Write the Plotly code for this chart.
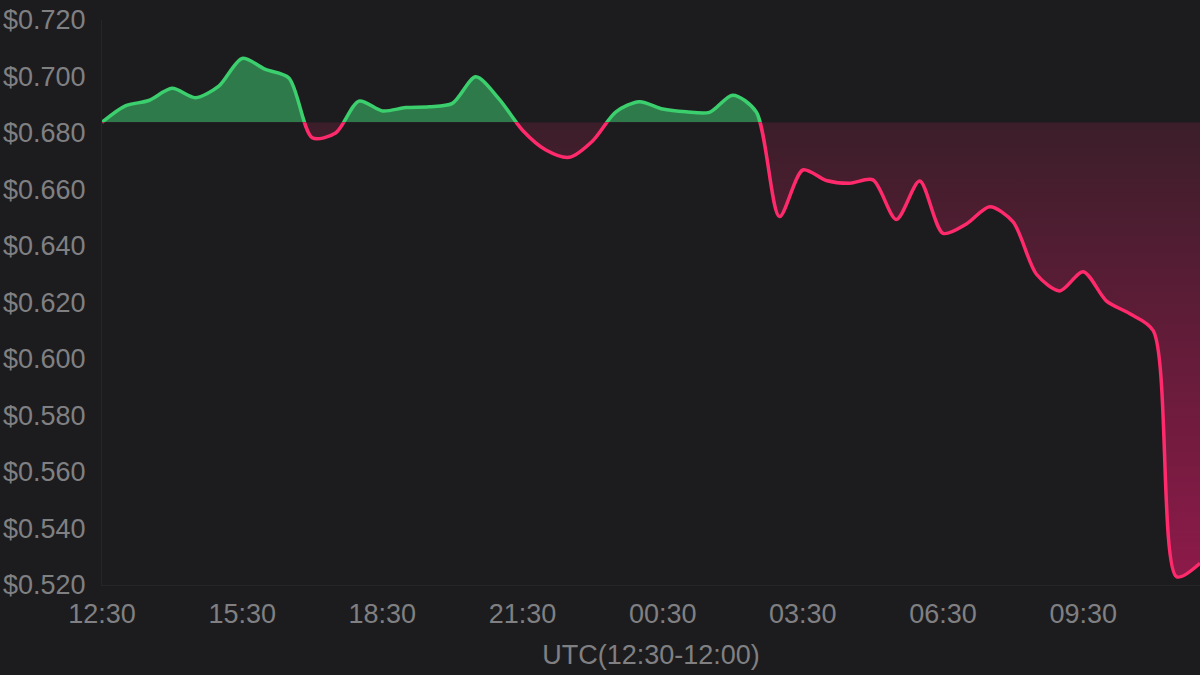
import plotly.graph_objects as go
import pandas as pd

# 30-minute price samples, 12:30 -> 12:00 next day (UTC)
start_time = "2024-05-20 12:30"
prices = [
    0.6838, 0.6896, 0.6915, 0.6958, 0.6925, 0.6966, 0.7064, 0.7025,
    0.6995, 0.6783, 0.6800, 0.6913, 0.6878, 0.6890, 0.6893, 0.6905,
    0.6999, 0.6920, 0.6810, 0.6740, 0.6714, 0.6772, 0.6875, 0.6911,
    0.6885, 0.6875, 0.6873, 0.6934, 0.6875, 0.6504, 0.6669, 0.6632,
    0.6622, 0.6634, 0.6494, 0.6630, 0.6445, 0.6478, 0.6539, 0.6485,
    0.6300, 0.6241, 0.6309, 0.6205, 0.6160, 0.6100, 0.5229, 0.5277,
]
y_ticks = [0.52, 0.54, 0.56, 0.58, 0.60, 0.62, 0.64, 0.66, 0.68, 0.70, 0.72]
x_title = "UTC(12:30-12:00)"

times = pd.date_range(start_time, periods=len(prices), freq="30min")
base = prices[0]
y_min, y_max = 0.52, 0.72

BG = "#1c1c1e"
GREEN = "#3ccf6e"
RED = "#ff2a6c"
TXT = "#808083"
FONT = "Liberation Sans, Arial, sans-serif"

# split point of the plot height at the opening price
split = (base - y_min) / (y_max - y_min)

fig = go.Figure()

# carrier trace for the visible axes
fig.add_trace(go.Scatter(x=times, y=prices, mode="none", hoverinfo="skip",
                         showlegend=False))

# above the open: green, clipped to upper band
fig.add_trace(go.Scatter(
    x=times, y=prices, yaxis="y2", mode="lines",
    line=dict(color=GREEN, width=3.5, shape="spline", smoothing=0.8),
    fill="tozeroy", fillcolor="#2e7a4b",
    hovertemplate="%{x|%H:%M}<br>$%{y:.4f}<extra></extra>",
))

# below the open: red with gradient, clipped to lower band
fig.add_trace(go.Scatter(
    x=times, y=[base] * len(times), yaxis="y3", mode="lines",
    line=dict(width=0), hoverinfo="skip",
))
fig.add_trace(go.Scatter(
    x=times, y=prices, yaxis="y3", mode="lines",
    line=dict(color=RED, width=3.5, shape="spline", smoothing=0.8),
    fill="tonexty",
    fillgradient=dict(type="vertical", start=y_min, stop=base,
                      colorscale=[[0, "#8e1a4a"], [1, "#3b1e29"]]),
    hovertemplate="%{x|%H:%M}<br>$%{y:.4f}<extra></extra>",
))

fig.update_layout(
    width=1200,
    height=675,
    paper_bgcolor=BG,
    plot_bgcolor=BG,
    showlegend=False,
    margin=dict(l=102, r=0, t=20, b=90),
    font=dict(family=FONT, color=TXT, size=27),
    xaxis=dict(
        anchor="y",
        range=[times[0], times[-1]],
        tick0=times[0],
        dtick=3 * 3600 * 1000,
        tickformat="%H:%M",
        showgrid=False,
        zeroline=False,
        showline=True,
        linecolor="#262628",
        linewidth=1,
        ticks="",
        ticklabelstandoff=5,
        tickfont=dict(size=27, color=TXT),
        title=dict(text=x_title, standoff=16, font=dict(size=27, color=TXT)),
    ),
    yaxis=dict(
        domain=[0, 1],
        range=[y_min, y_max],
        tickvals=y_ticks,
        ticktext=[f"${v:.3f}" for v in y_ticks],
        showgrid=False,
        zeroline=False,
        showline=True,
        linecolor="#262628",
        linewidth=1,
        ticks="",
        ticklabelstandoff=10,
        tickfont=dict(size=27, color=TXT),
    ),
    yaxis2=dict(domain=[split, 1], range=[base, y_max], anchor="x",
                visible=False, fixedrange=True),
    yaxis3=dict(domain=[0, split], range=[y_min, base], anchor="x",
                visible=False, fixedrange=True),
)

# page without the default body margin so the figure sits at the corner
fig.write_html("out.html", config={"displayModeBar": False},
               post_script="document.body.style.margin='0';")
